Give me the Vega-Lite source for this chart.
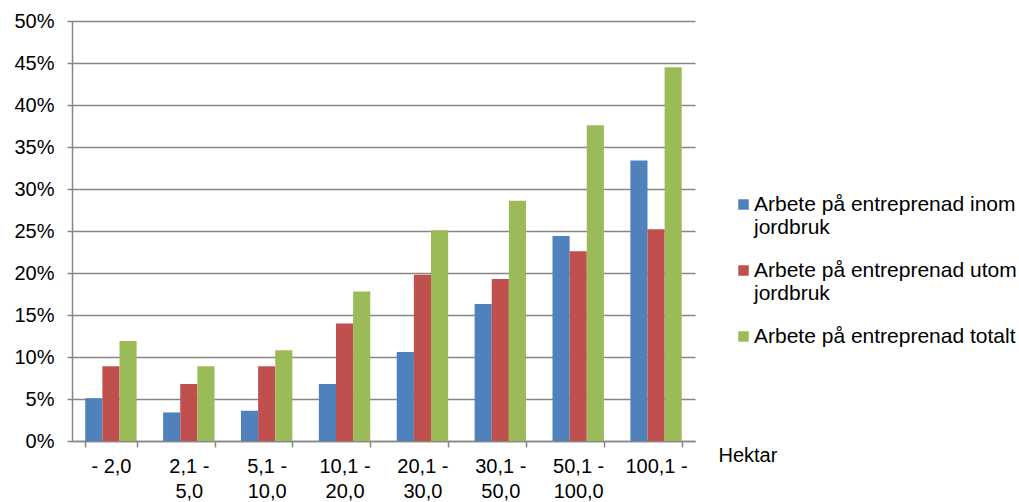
{
  "$schema": "https://vega.github.io/schema/vega-lite/v6.json",
  "width": 623,
  "height": 420,
  "autosize": {"type": "none"},
  "padding": {"left": 72, "top": 21, "right": 324, "bottom": 61},
  "background": "white",
  "config": {
    "font": "Liberation Sans",
    "view": {"stroke": null},
    "axis": {"labelFont": "Liberation Sans", "labelColor": "#000000", "labelFontSize": 20, "titleFont": "Liberation Sans"},
    "legend": {"labelFont": "Liberation Sans"}
  },
  "data": {
    "values": [
      {"kat": "- 2,0", "serie": "Arbete på entreprenad inom jordbruk", "v": 0.051},
      {"kat": "- 2,0", "serie": "Arbete på entreprenad utom jordbruk", "v": 0.089},
      {"kat": "- 2,0", "serie": "Arbete på entreprenad totalt", "v": 0.119},
      {"kat": "2,1 - 5,0", "serie": "Arbete på entreprenad inom jordbruk", "v": 0.034},
      {"kat": "2,1 - 5,0", "serie": "Arbete på entreprenad utom jordbruk", "v": 0.068},
      {"kat": "2,1 - 5,0", "serie": "Arbete på entreprenad totalt", "v": 0.089},
      {"kat": "5,1 - 10,0", "serie": "Arbete på entreprenad inom jordbruk", "v": 0.036},
      {"kat": "5,1 - 10,0", "serie": "Arbete på entreprenad utom jordbruk", "v": 0.089},
      {"kat": "5,1 - 10,0", "serie": "Arbete på entreprenad totalt", "v": 0.108},
      {"kat": "10,1 - 20,0", "serie": "Arbete på entreprenad inom jordbruk", "v": 0.068},
      {"kat": "10,1 - 20,0", "serie": "Arbete på entreprenad utom jordbruk", "v": 0.140},
      {"kat": "10,1 - 20,0", "serie": "Arbete på entreprenad totalt", "v": 0.178},
      {"kat": "20,1 - 30,0", "serie": "Arbete på entreprenad inom jordbruk", "v": 0.106},
      {"kat": "20,1 - 30,0", "serie": "Arbete på entreprenad utom jordbruk", "v": 0.198},
      {"kat": "20,1 - 30,0", "serie": "Arbete på entreprenad totalt", "v": 0.251},
      {"kat": "30,1 - 50,0", "serie": "Arbete på entreprenad inom jordbruk", "v": 0.163},
      {"kat": "30,1 - 50,0", "serie": "Arbete på entreprenad utom jordbruk", "v": 0.193},
      {"kat": "30,1 - 50,0", "serie": "Arbete på entreprenad totalt", "v": 0.286},
      {"kat": "50,1 - 100,0", "serie": "Arbete på entreprenad inom jordbruk", "v": 0.244},
      {"kat": "50,1 - 100,0", "serie": "Arbete på entreprenad utom jordbruk", "v": 0.226},
      {"kat": "50,1 - 100,0", "serie": "Arbete på entreprenad totalt", "v": 0.376},
      {"kat": "100,1 -", "serie": "Arbete på entreprenad inom jordbruk", "v": 0.334},
      {"kat": "100,1 -", "serie": "Arbete på entreprenad utom jordbruk", "v": 0.252},
      {"kat": "100,1 -", "serie": "Arbete på entreprenad totalt", "v": 0.445}
    ]
  },
  "mark": {"type": "bar"},
  "encoding": {
    "x": {
      "field": "kat",
      "type": "nominal",
      "sort": null,
      "scale": {"paddingInner": 0.34, "paddingOuter": 0.17},
      "axis": {
        "title": "Hektar",
        "titleFontSize": 20,
        "titleFontWeight": "normal",
        "titleColor": "#000000",
        "titleX": 646,
        "titleY": 14,
        "titleAnchor": "start",
        "titleAlign": "left",
        "titleBaseline": "middle",
        "labelAngle": 0,
        "labelPadding": 9,
        "labelLineHeight": 25,
        "labelExpr": "split(replace(datum.label, ' - ', ' -|'), '|')",
        "domainColor": "#868686",
        "domainWidth": 1.5,
        "tickColor": "#868686",
        "tickWidth": 1.5,
        "tickSize": 6,
        "tickBand": "extent",
        "grid": false
      }
    },
    "xOffset": {"field": "serie", "sort": null},
    "y": {
      "field": "v",
      "type": "quantitative",
      "scale": {"domain": [0, 0.5]},
      "axis": {
        "title": null,
        "values": [0, 0.05, 0.1, 0.15, 0.2, 0.25, 0.3, 0.35, 0.4, 0.45, 0.5],
        "format": ".0%",
        "labelPadding": 13,
        "domainColor": "#868686",
        "domainWidth": 1.5,
        "tickColor": "#868686",
        "tickWidth": 1.5,
        "tickSize": 5,
        "gridColor": "#868686",
        "gridWidth": 1.5
      }
    },
    "color": {
      "field": "serie",
      "type": "nominal",
      "sort": null,
      "scale": {"range": ["#4F81BD", "#C0504D", "#9BBB59"]},
      "legend": {
        "title": null,
        "orient": "none",
        "legendX": 661,
        "legendY": 173,
        "padding": 0,
        "symbolType": "square",
        "symbolSize": 110,
        "symbolStrokeWidth": 0,
        "labelFontSize": 21,
        "labelColor": "#000000",
        "labelLimit": 400,
        "labelOffset": 0,
        "labelLineHeight": 23,
        "labelExpr": "split(replace(datum.label, ' jordbruk', '|jordbruk'), '|')",
        "rowPadding": 21
      }
    }
  }
}
